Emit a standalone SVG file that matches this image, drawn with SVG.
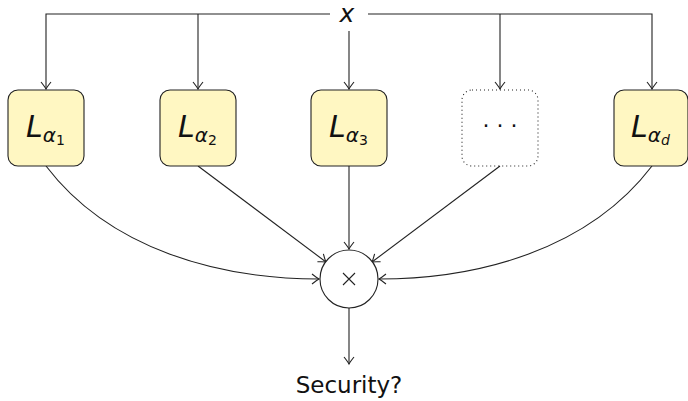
<svg xmlns="http://www.w3.org/2000/svg" width="688" height="401" viewBox="0 0 688 401">
  <defs>
    <style>
      .wire { fill: none; stroke: #222; stroke-width: 1.1; }
      .box { fill: #fff7c2; stroke: #222; stroke-width: 1.1; }
      .dots { fill: none; stroke: #222; stroke-width: 1.1; stroke-dasharray: 1 3; }
      .lbl { font-family: "DejaVu Sans", "Liberation Sans", sans-serif; fill: #111; }
      .it { font-style: italic; }
    </style>
    <marker id="to" viewBox="-8 -6 10 12" markerWidth="10" markerHeight="12" refX="0" refY="0" orient="auto" markerUnits="userSpaceOnUse">
      <path d="M-7,-5 Q-2,-1 0,0 Q-2,1 -7,5" fill="none" stroke="#222" stroke-width="1.1"/>
    </marker>
  </defs>

  <!-- input bus -->
  <g id="input">
    <text class="lbl it" x="347" y="22" font-size="25" text-anchor="middle">x</text>
  </g>

  <g id="connectors">
    <!-- distribution of x to each block -->
    <path class="wire" d="M330,14 H46 V89" marker-end="url(#to)"/>
    <path class="wire" d="M198,14 V89" marker-end="url(#to)"/>
    <path class="wire" d="M349,31 V89" marker-end="url(#to)"/>
    <path class="wire" d="M368,14 H652 V89" marker-end="url(#to)"/>
    <path class="wire" d="M500,14 V89" marker-end="url(#to)"/>
    <!-- block outputs into the product -->
    <path class="wire" d="M46,166 C110,250 220,279 319,279" marker-end="url(#to)"/>
    <path class="wire" d="M198,166 L326,262" marker-end="url(#to)"/>
    <path class="wire" d="M349,166 V249" marker-end="url(#to)"/>
    <path class="wire" d="M500,166 L372,262" marker-end="url(#to)"/>
    <path class="wire" d="M652,166 C588,250 478,279 379,279" marker-end="url(#to)"/>
    <!-- product to result -->
    <path class="wire" d="M349,308 V364" marker-end="url(#to)"/>
  </g>

  <g id="L1">
    <rect class="box" x="8" y="90" width="76" height="76" rx="10"/>
    <text class="lbl" x="26" y="137"><tspan class="it" font-size="30">L</tspan><tspan font-size="20" class="it" dy="5">α</tspan><tspan font-size="14" dy="3">1</tspan></text>
  </g>
  <g id="L2">
    <rect class="box" x="160" y="90" width="76" height="76" rx="10"/>
    <text class="lbl" x="178" y="137"><tspan class="it" font-size="30">L</tspan><tspan font-size="20" class="it" dy="5">α</tspan><tspan font-size="14" dy="3">2</tspan></text>
  </g>
  <g id="L3">
    <rect class="box" x="311" y="90" width="76" height="76" rx="10"/>
    <text class="lbl" x="329" y="137"><tspan class="it" font-size="30">L</tspan><tspan font-size="20" class="it" dy="5">α</tspan><tspan font-size="14" dy="3">3</tspan></text>
  </g>
  <g id="Ldots">
    <rect class="dots" x="462" y="90" width="76" height="76" rx="10"/>
    <text class="lbl" x="500" y="133" font-size="22" text-anchor="middle">· · ·</text>
  </g>
  <g id="Ld">
    <rect class="box" x="614" y="90" width="74" height="76" rx="10"/>
    <text class="lbl" x="631" y="137"><tspan class="it" font-size="30">L</tspan><tspan font-size="20" class="it" dy="5">α</tspan><tspan font-size="14" class="it" dy="3">d</tspan></text>
  </g>

  <g id="product">
    <circle cx="349" cy="279" r="29" fill="#fff" stroke="#222" stroke-width="1.1"/>
    <path class="wire" d="M343,273 L355,285 M355,273 L343,285"/>
  </g>

  <g id="result">
    <text class="lbl" x="349" y="393" font-size="23" text-anchor="middle">Security?</text>
  </g>
</svg>
